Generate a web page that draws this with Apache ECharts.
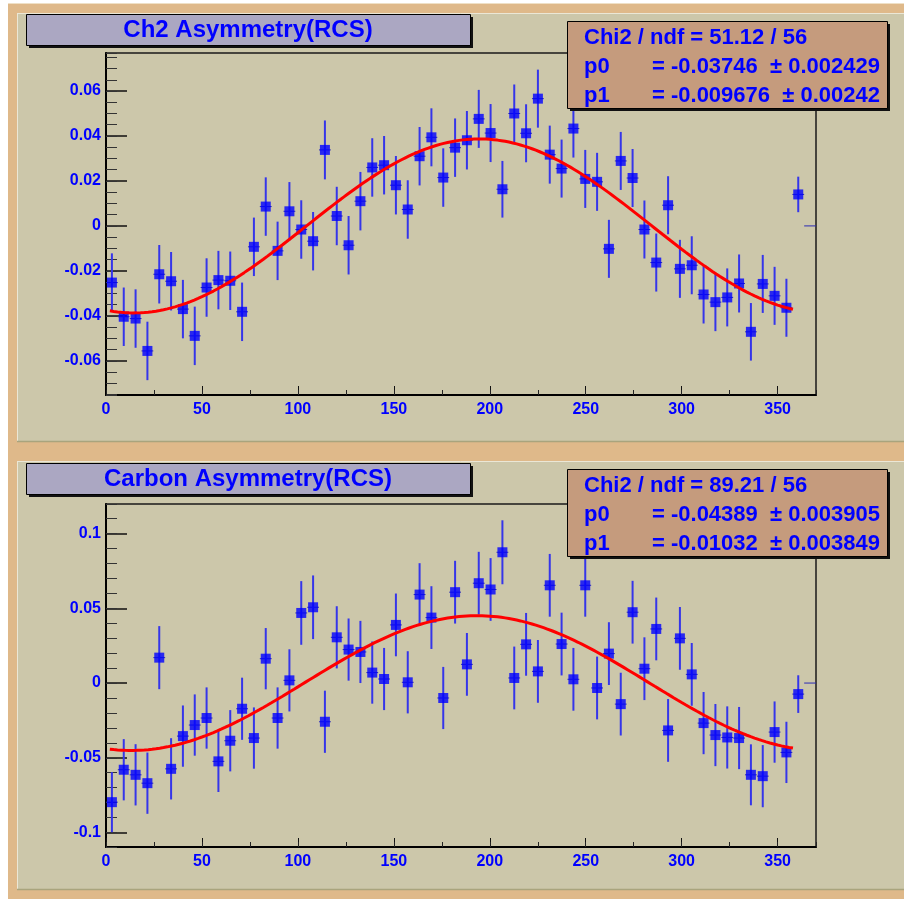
<!DOCTYPE html>
<html>
<head>
<meta charset="utf-8">
<script src="https://cdn.jsdelivr.net/npm/echarts@6/dist/echarts.min.js"></script>
<style>
  html, body { margin: 0; padding: 0; background: #ffffff; }
  #chart { width: 904px; height: 899px; }
</style>
</head>
<body>
<div id="chart"></div>
<script>
// Azimuthal bins (degrees): 60 bins over 0..370
const binCenters = [
  3.08, 9.25, 15.42, 21.58, 27.75, 33.92, 40.08, 46.25, 52.42, 58.58,
  64.75, 70.92, 77.08, 83.25, 89.42, 95.58, 101.75, 107.92, 114.08, 120.25,
  126.42, 132.58, 138.75, 144.92, 151.08, 157.25, 163.42, 169.58, 175.75, 181.92,
  188.08, 194.25, 200.42, 206.58, 212.75, 218.92, 225.08, 231.25, 237.42, 243.58,
  249.75, 255.92, 262.08, 268.25, 274.42, 280.58, 286.75, 292.92, 299.08, 305.25,
  311.42, 317.58, 323.75, 329.92, 336.08, 342.25, 348.42, 354.58, 360.75, 366.92
];
const binHalfWidth = 3.083;

// Ch2 asymmetry per bin and its error
const ch2Values = [
  -0.0252, -0.0404, -0.0412, -0.0556, -0.0215, -0.0246, -0.0370, -0.0489, -0.0274, -0.0241,
  -0.0244, -0.0382, -0.0093, 0.0086, -0.0111, 0.0065, -0.0016, -0.0068, 0.0338, 0.0044,
  -0.0086, 0.0110, 0.0260, 0.0270, 0.0181, 0.0073, 0.0310, 0.0394, 0.0215, 0.0348,
  0.0381, 0.0476, 0.0413, 0.0163, 0.0500, 0.0412, 0.0566, 0.0317, 0.0255, 0.0433,
  0.0209, 0.0196, -0.0102, 0.0289, 0.0213, -0.0016, -0.0163, 0.0092, -0.0191, -0.0175,
  -0.0305, -0.0339, -0.0318, -0.0256, -0.0471, -0.0258, -0.0311, -0.0364, 0.0140, 0
];
const ch2Errors = [
  0.0130, 0.0130, 0.0130, 0.0130, 0.0130, 0.0130, 0.0130, 0.0130, 0.0130, 0.0130,
  0.0130, 0.0130, 0.0130, 0.0130, 0.0130, 0.0130, 0.0130, 0.0130, 0.0131, 0.0130,
  0.0130, 0.0130, 0.0130, 0.0130, 0.0130, 0.0130, 0.0130, 0.0129, 0.0130, 0.0130,
  0.0130, 0.0129, 0.0129, 0.0126, 0.0129, 0.0129, 0.0129, 0.0129, 0.0129, 0.0129,
  0.0129, 0.0129, 0.0129, 0.0129, 0.0129, 0.0129, 0.0129, 0.0129, 0.0129, 0.0129,
  0.0129, 0.0129, 0.0129, 0.0129, 0.0128, 0.0129, 0.0129, 0.0129, 0.0079, 0
];

// Carbon asymmetry per bin and its error
const carbonValues = [
  -0.0797, -0.0580, -0.0614, -0.0670, 0.0170, -0.0574, -0.0355, -0.0281, -0.0234, -0.0524,
  -0.0386, -0.0172, -0.0368, 0.0163, -0.0234, 0.0018, 0.0469, 0.0507, -0.0259, 0.0306,
  0.0224, 0.0208, 0.0070, 0.0027, 0.0389, 0.0005, 0.0592, 0.0438, -0.0100, 0.0608,
  0.0125, 0.0668, 0.0626, 0.0875, 0.0034, 0.0259, 0.0078, 0.0654, 0.0261, 0.0025,
  0.0654, -0.0033, 0.0197, -0.0141, 0.0474, 0.0096, 0.0362, -0.0317, 0.0299, 0.0058,
  -0.0268, -0.0348, -0.0364, -0.0368, -0.0614, -0.0623, -0.0328, -0.0464, -0.0074, 0
];
const carbonErrors = [
  0.0201, 0.0205, 0.0205, 0.0205, 0.0211, 0.0205, 0.0205, 0.0205, 0.0205, 0.0205,
  0.0205, 0.0208, 0.0205, 0.0205, 0.0205, 0.0208, 0.0213, 0.0213, 0.0208, 0.0208,
  0.0208, 0.0208, 0.0208, 0.0208, 0.0210, 0.0208, 0.0210, 0.0210, 0.0208, 0.0210,
  0.0210, 0.0210, 0.0210, 0.0214, 0.0210, 0.0210, 0.0210, 0.0210, 0.0210, 0.0210,
  0.0210, 0.0210, 0.0210, 0.0210, 0.0210, 0.0210, 0.0210, 0.0210, 0.0210, 0.0210,
  0.0208, 0.0208, 0.0208, 0.0208, 0.0204, 0.0208, 0.0205, 0.0205, 0.0126, 0
];

// Fit results: f(phi) = p0*cos(phi) + p1*sin(phi)
const ch2Fit = { chi2: '51.12', ndf: '56', p0: -0.03746, p0Err: '0.002429', p1: -0.009676, p1Err: '0.00242' };
const carbonFit = { chi2: '89.21', ndf: '56', p0: -0.04389, p0Err: '0.003905', p1: -0.01032, p1Err: '0.003849' };
const fitRange = [2, 358];

const xTicks = { min: 0, max: 370, major: 50, minor: 25 };
const ch2Axis = { min: -0.0752, max: 0.0769, major: 0.02, minor: 0.005 };
const carbonAxis = { min: -0.1097, max: 0.1198, major: 0.05, minor: 0.01 };

const panelTitles = ['Ch2 Asymmetry(RCS)', 'Carbon Asymmetry(RCS)'];

const FONT = '"Liberation Sans", Arial, Helvetica, sans-serif';
const BLUE = '#0000ff';

function fitCurve(fit) {
  const pts = [];
  for (let phi = fitRange[0]; phi <= fitRange[1]; phi += 1) {
    const r = phi * Math.PI / 180;
    pts.push([phi, fit.p0 * Math.cos(r) + fit.p1 * Math.sin(r)]);
  }
  return pts;
}

function pointsData(values, errors) {
  return binCenters.map((x, i) => [x, values[i], errors[i]]);
}

function errorBarRender(params, api) {
  const x = api.value(0), y = api.value(1), e = api.value(2);
  const l = api.coord([x - binHalfWidth, y]);
  const r = api.coord([x + binHalfWidth, y]);
  const children = [{
    type: 'line',
    shape: { x1: l[0], y1: l[1], x2: r[0], y2: r[1] },
    style: { stroke: '#2a2ab4', lineWidth: 1 }
  }];
  if (e > 0) {
    const t = api.coord([x, y + e]);
    const b = api.coord([x, y - e]);
    children.push({
      type: 'line',
      shape: { x1: t[0], y1: t[1], x2: b[0], y2: b[1] },
      style: { stroke: '#3535ea', lineWidth: 2 }
    });
  }
  return { type: 'group', children };
}

function isMultiple(v, step) {
  const q = v / step;
  return Math.abs(q - Math.round(q)) < 1e-6;
}

function tickText(v, step) {
  if (!isMultiple(v, step)) return '';
  const n = Math.round(v / step) * step;
  return n === 0 ? '0' : String(+n.toFixed(4));
}

const labelStyle = { color: BLUE, fontWeight: 'bold', fontSize: 16, fontFamily: FONT };

function xAxesFor(gridIndex) {
  return [
    {
      type: 'value', gridIndex, position: 'bottom', min: xTicks.min, max: xTicks.max, interval: xTicks.major,
      axisLine: { show: true, onZero: false, lineStyle: { color: '#000', width: 2 } },
      axisTick: { show: true, inside: true, length: 9, lineStyle: { color: '#111', width: 1 } },
      axisLabel: Object.assign({ margin: 7, showMaxLabel: false,
        formatter: v => tickText(v, xTicks.major) }, labelStyle),
      splitLine: { show: false }
    },
    {
      type: 'value', gridIndex, position: 'bottom', min: xTicks.min, max: xTicks.max, interval: xTicks.minor,
      axisLine: { show: false, onZero: false },
      axisTick: { show: true, inside: true, length: 5, lineStyle: { color: '#222', width: 1 } },
      axisLabel: { show: false },
      splitLine: { show: false }
    }
  ];
}

function yAxesFor(gridIndex, ax) {
  return [
    {
      type: 'value', gridIndex, position: 'left', min: ax.min, max: ax.max,
      minInterval: ax.major, maxInterval: ax.major,
      axisLine: { show: true, onZero: false, lineStyle: { color: '#000', width: 2 } },
      axisTick: { show: true, inside: true, length: 21, lineStyle: { color: '#111', width: 1.5 } },
      axisLabel: Object.assign({ margin: 5, showMinLabel: false, showMaxLabel: false,
        formatter: v => tickText(v, ax.major) }, labelStyle),
      splitLine: { show: false }
    },
    {
      type: 'value', gridIndex, position: 'left', min: ax.min, max: ax.max,
      minInterval: ax.minor, maxInterval: ax.minor,
      axisLine: { show: false, onZero: false },
      axisTick: { show: true, inside: true, length: 11, lineStyle: { color: '#333', width: 1 } },
      axisLabel: { show: false },
      splitLine: { show: false }
    }
  ];
}

function panelSeries(values, errors, fit, xi, yi) {
  const data = pointsData(values, errors);
  return [
    {
      type: 'custom', xAxisIndex: xi, yAxisIndex: yi, renderItem: errorBarRender,
      data, encode: { x: 0, y: 1 }, z: 3, silent: true, clip: false
    },
    {
      type: 'scatter', xAxisIndex: xi, yAxisIndex: yi, symbol: 'rect', symbolSize: 10,
      itemStyle: { color: BLUE }, data: data.filter(d => d[2] > 0), z: 4, silent: true
    },
    {
      type: 'line', xAxisIndex: xi, yAxisIndex: yi, data: fitCurve(fit), showSymbol: false,
      lineStyle: { color: '#ff0000', width: 3 }, z: 5, silent: true, smooth: false
    }
  ];
}

function statsBox(top, fit) {
  const left = 567, w = 320, h = 87;
  const txt = (text, x, y, align) => ({
    type: 'text', z: 101,
    style: { text, x, y, fill: BLUE, font: 'bold 22px ' + FONT, align: align || 'left', verticalAlign: 'middle' }
  });
  return [
    { type: 'rect', z: 100, shape: { x: left + 3, y: top + 3, width: w, height: h }, style: { fill: '#111' } },
    { type: 'rect', z: 100, shape: { x: left + 0.5, y: top + 0.5, width: w, height: h }, style: { fill: '#c59b7d', stroke: '#000', lineWidth: 1 } },
    txt('Chi2 / ndf = ' + fit.chi2 + ' / ' + fit.ndf, 584, top + 17),
    txt('p0', 584, top + 46),
    txt('= ' + fit.p0.toString(), 652, top + 46),
    txt('\u00b1 ' + fit.p0Err, 880, top + 46, 'right'),
    txt('p1', 584, top + 75),
    txt('= ' + fit.p1.toString(), 652, top + 75),
    txt('\u00b1 ' + fit.p1Err, 880, top + 75, 'right')
  ];
}

function titleBox(top, text) {
  const left = 26, w = 444, h = 31;
  return [
    { type: 'rect', z: 100, shape: { x: left + 3, y: top + 3, width: w, height: h }, style: { fill: '#111' } },
    { type: 'rect', z: 100, shape: { x: left + 0.5, y: top + 0.5, width: w, height: h }, style: { fill: '#aba7c2', stroke: '#000', lineWidth: 1 } },
    { type: 'text', z: 101, style: { text, x: left + w / 2, y: top + h / 2 + 1, fill: BLUE, font: 'bold 24px ' + FONT, align: 'center', verticalAlign: 'middle' } }
  ];
}

function panelBackground(top, height) {
  const x0 = 17, x1 = 904;
  return [
    { type: 'rect', z: -9, shape: { x: x0, y: top, width: x1 - x0, height }, style: { fill: '#ccc7aa' } },
    { type: 'line', z: -8, shape: { x1: x0, y1: top + 0.5, x2: x1, y2: top + 0.5 }, style: { stroke: '#ebe7d6', lineWidth: 1 } },
    { type: 'line', z: -8, shape: { x1: x0 + 0.5, y1: top, x2: x0 + 0.5, y2: top + height }, style: { stroke: '#ebe7d6', lineWidth: 1 } },
    { type: 'line', z: -8, shape: { x1: x0, y1: top + height - 0.5, x2: x1, y2: top + height - 0.5 }, style: { stroke: '#a9a47d', lineWidth: 1.5 } }
  ];
}

const chart = echarts.init(document.getElementById('chart'), null, { renderer: 'canvas' });

const option = {
  animation: false,
  backgroundColor: '#ffffff',
  grid: [
    { left: 106, top: 53, width: 710, height: 342, show: true, borderColor: '#1a1a1a', borderWidth: 1.5, backgroundColor: 'transparent', containLabel: false },
    { left: 106, top: 504, width: 710, height: 343, show: true, borderColor: '#1a1a1a', borderWidth: 1.5, backgroundColor: 'transparent', containLabel: false }
  ],
  xAxis: xAxesFor(0).concat(xAxesFor(1)),
  yAxis: yAxesFor(0, ch2Axis).concat(yAxesFor(1, carbonAxis)),
  series: panelSeries(ch2Values, ch2Errors, ch2Fit, 0, 0)
    .concat(panelSeries(carbonValues, carbonErrors, carbonFit, 2, 2)),
  graphic: [].concat(
    [
      { type: 'rect', z: -10, shape: { x: 8, y: 3, width: 896, height: 896 }, style: { fill: '#dfb98a' } },
      { type: 'line', z: -9, shape: { x1: 8, y1: 3.5, x2: 904, y2: 3.5 }, style: { stroke: '#efe0c6', lineWidth: 1 } }
    ],
    panelBackground(13, 429),
    panelBackground(461, 429),
    titleBox(14, panelTitles[0]),
    titleBox(463, panelTitles[1]),
    statsBox(21, ch2Fit),
    statsBox(469, carbonFit)
  )
};

chart.setOption(option);
</script>
</body>
</html>
